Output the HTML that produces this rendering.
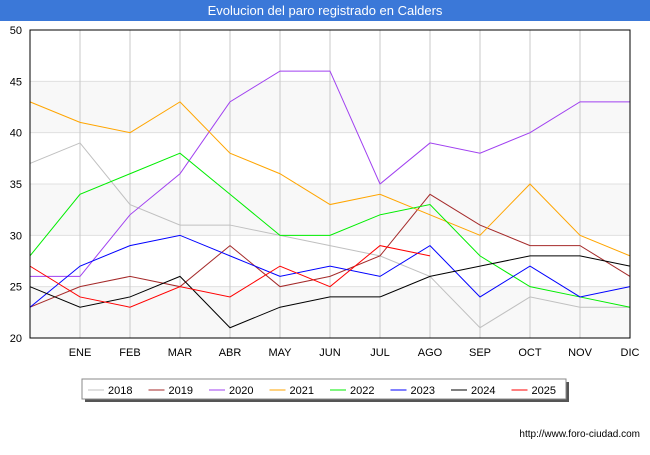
<!DOCTYPE html>
<html><head><meta charset="utf-8"><style>
body{margin:0;width:650px;height:450px;background:#fff;font-family:"Liberation Sans","DejaVu Sans",sans-serif;overflow:hidden}
</style></head><body>
<svg width="650" height="450" xmlns="http://www.w3.org/2000/svg" id="chart">
<rect x="0" y="0" width="650" height="21" fill="#3b78d8"/>
<text x="325" y="15" text-anchor="middle" fill="#fff" font-size="13">Evolucion del paro registrado en Calders</text>
<g id="bands"></g><g id="grid"></g><g id="series"></g><g id="axes"></g>
<g id="legend"></g>
<text x="640" y="437" text-anchor="end" font-size="10" fill="#000">http://www.foro-ciudad.com</text>
</svg>
<script>
const months=["","ENE","FEB","MAR","ABR","MAY","JUN","JUL","AGO","SEP","OCT","NOV","DIC"];
const yTicks=[20,25,30,35,40,45,50];
const seriesNames=["2018","2019","2020","2021","2022","2023","2024","2025"];
const seriesColors=["#c0c0c0","#a52a2a","#a040f0","#ffa500","#00ee00","#0000ff","#000000","#ff0000"];
const v2018=[37,39,33,31,31,30,29,28,26,21,24,23,23];
const v2019=[23,25,26,25,29,25,26,28,34,31,29,29,26];
const v2020=[26,26,32,36,43,46,46,35,39,38,40,43,43];
const v2021=[43,41,40,43,38,36,33,34,32,30,35,30,28];
const v2022=[28,34,36,38,34,30,30,32,33,28,25,24,23];
const v2023=[23,27,29,30,28,26,27,26,29,24,27,24,25];
const v2024=[25,23,24,26,21,23,24,24,26,27,28,28,27];
const v2025=[27,24,23,25,24,27,25,29,28];
const allSeries=[v2018,v2019,v2020,v2021,v2022,v2023,v2024,v2025];
const L=30,R=630,T=30,B=338,yMin=20,yMax=50;
const xs=i=>L+i*(R-L)/(months.length-1);
const ys=v=>B-(v-yMin)*(B-T)/(yMax-yMin);
const NS="http://www.w3.org/2000/svg";
function mk(tag,attrs,parent){const e=document.createElementNS(NS,tag);for(const k in attrs)e.setAttribute(k,attrs[k]);document.getElementById(parent).appendChild(e);return e;}
for(let i=0;i<yTicks.length-1;i++){
 if(i%2===0){const r=mk('rect',{x:L,y:ys(yTicks[i+1]),width:R-L,height:ys(yTicks[i])-ys(yTicks[i+1]),fill:'#f8f8f8'},'bands');
 
 }
}
yTicks.forEach(t=>{const l=mk('line',{x1:L,x2:R,y1:ys(t),y2:ys(t),stroke:'#e0e0e0'},'grid');


const tx=mk('text',{x:L-8,y:ys(t)+4,'text-anchor':'end','font-size':'11'},'axes');tx.textContent=t;

});
months.forEach((m,i)=>{if(i>0){const l=mk('line',{x1:xs(i),x2:xs(i),y1:T,y2:B,stroke:'#c8c8c8'},'grid');


const tx=mk('text',{x:xs(i),y:B+18,'text-anchor':'middle','font-size':'11'},'axes');tx.textContent=m;

}});
const frame=mk('rect',{x:L,y:T,width:R-L,height:B-T,fill:'none',stroke:'#000','stroke-width':1},'axes');


allSeries.forEach((s,k)=>{const p=mk('polyline',{points:s.map((v,i)=>xs(i)+','+ys(v)).join(' '),fill:'none',stroke:seriesColors[k],'stroke-width':1},'series');

});
const sh=mk('rect',{x:85,y:382,width:484,height:20,fill:'#555'},'legend');


const lb=mk('rect',{x:82,y:379,width:484,height:20,fill:'#fff',stroke:'#888'},'legend');


seriesNames.forEach((n,k)=>{const x0=88+k*60.5;
const l=mk('line',{x1:x0,x2:x0+16,y1:390,y2:390,stroke:seriesColors[k],'stroke-width':1},'legend');


const t=mk('text',{x:x0+20,y:394,'font-size':'11'},'legend');t.textContent=n;

});
</script>
</body></html>
